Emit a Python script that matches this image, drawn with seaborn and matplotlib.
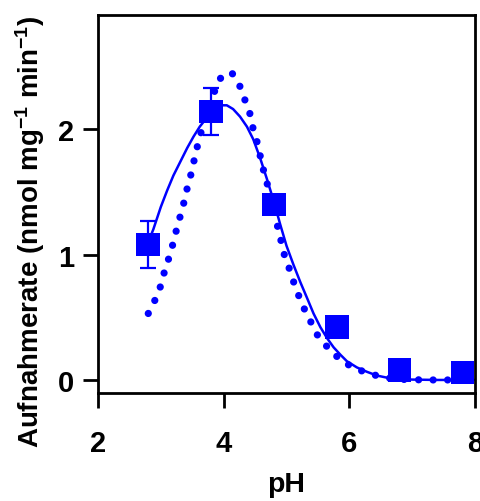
import matplotlib
matplotlib.use("Agg")
import matplotlib.pyplot as plt
import numpy as np
import pandas as pd
import seaborn as sns

# measured uptake (mean +- error)
ph = [2.8, 3.8, 4.8, 5.8, 6.8, 7.8]
rate = [1.08, 2.14, 1.40, 0.42, 0.08, 0.06]
rate_err = [0.19, 0.19, 0.0, 0.0, 0.0, 0.0]

# fitted curve (solid)
fit_ph = [2.80, 2.88, 3.00, 3.10, 3.20, 3.31, 3.42, 3.52, 3.62, 3.73, 3.85, 3.95,
          4.05, 4.15, 4.26, 4.37, 4.47, 4.58, 4.69, 4.80, 4.90, 5.00, 5.11, 5.22,
          5.33, 5.43, 5.54, 5.65, 5.75, 5.86, 5.96, 6.12, 6.28, 6.44, 6.60, 6.80,
          7.00, 7.40, 7.80, 8.00]
fit_rate = [1.10, 1.20, 1.38, 1.51, 1.63, 1.74, 1.85, 1.94, 2.02, 2.09, 2.16, 2.19,
            2.19, 2.16, 2.10, 2.02, 1.92, 1.77, 1.60, 1.42, 1.24, 1.07, 0.92, 0.78,
            0.65, 0.53, 0.42, 0.33, 0.26, 0.20, 0.15, 0.10, 0.065, 0.035, 0.018, 0.008,
            0.003, 0.0, 0.0, 0.0]

# model curve (dotted)
model_ph = [2.80, 2.91, 2.99, 3.05, 3.12, 3.19, 3.24, 3.30, 3.36, 3.41, 3.47, 3.52,
            3.57, 3.63, 3.74, 3.84, 3.92, 4.02, 4.13, 4.26, 4.34, 4.42, 4.47, 4.53,
            4.58, 4.63, 4.69, 4.85, 4.90, 4.95, 5.03, 5.10, 5.18, 5.27, 5.38, 5.49,
            5.67, 5.88, 6.10, 6.32, 6.55, 6.80, 7.20, 7.80]
model_rate = [0.53, 0.64, 0.74, 0.85, 0.96, 1.08, 1.18, 1.29, 1.40, 1.51, 1.62, 1.73,
              1.84, 1.96, 2.11, 2.28, 2.39, 2.44, 2.45, 2.34, 2.23, 2.12, 2.00, 1.90,
              1.79, 1.68, 1.57, 1.24, 1.14, 1.02, 0.91, 0.80, 0.69, 0.58, 0.47, 0.36,
              0.25, 0.15, 0.09, 0.05, 0.02, 0.005, 0.0, 0.0]

BLUE = "#0000ff"

sns.set_theme(style="ticks")
plt.rcParams["font.family"] = ["Liberation Sans", "DejaVu Sans"]
plt.rcParams["font.weight"] = "bold"
plt.rcParams["mathtext.fontset"] = "custom"
plt.rcParams["mathtext.rm"] = "Liberation Sans:bold"
plt.rcParams["mathtext.default"] = "rm"
for key in ["text.color", "axes.labelcolor", "xtick.color", "ytick.color",
            "xtick.labelcolor", "ytick.labelcolor"]:
    plt.rcParams[key] = "black"

fig = plt.figure(figsize=(4.81, 5.02), dpi=100)
ax = fig.add_axes([98 / 481, 108 / 502, 377 / 481, 378 / 502])

sns.lineplot(x=fit_ph, y=fit_rate, color=BLUE, linewidth=1.8, ax=ax, zorder=2)
sns.lineplot(x=model_ph, y=model_rate, color=BLUE, linewidth=5.2,
             linestyle=(0, (0.01, 2.0)), dash_capstyle="round", ax=ax, zorder=2)

df = pd.DataFrame({"ph": ph, "rate": rate, "err": rate_err})
bars = df[df["err"] > 0]
ax.errorbar(bars["ph"], bars["rate"], yerr=bars["err"], fmt="none", ecolor=BLUE,
            elinewidth=1.6, capsize=6, capthick=1.6, zorder=3)
sns.scatterplot(data=df, x="ph", y="rate", marker="s", s=290, color=BLUE,
                edgecolor="none", ax=ax, zorder=4, clip_on=False)

ax.set_xlim(2, 8)
ax.set_ylim(-0.104, 2.91)
ax.set_xticks([2, 4, 6, 8])
ax.set_yticks([0, 1, 2])
ax.set_xticklabels(["2", "4", "6", "8"], fontsize=21, fontweight="bold")
ax.set_yticklabels(["0", "1", "2"], fontsize=21, fontweight="bold")

for side in ["left", "right", "top", "bottom"]:
    ax.spines[side].set_visible(True)
    ax.spines[side].set_linewidth(2.0)
    ax.spines[side].set_color("black")
ax.tick_params(axis="both", direction="out", length=11, width=2.0, color="black")
ax.tick_params(axis="x", pad=15)
ax.tick_params(axis="y", pad=6)

ax.set_xlabel("pH", fontsize=20.5, fontweight="bold", labelpad=10)
ax.set_ylabel("Aufnahmerate (nmol mg$^{-1}$ min$^{-1}$)", fontsize=20,
              fontweight="bold")
ax.yaxis.set_label_coords(-0.135, 0.43)

fig.savefig("out.png", dpi=100)
